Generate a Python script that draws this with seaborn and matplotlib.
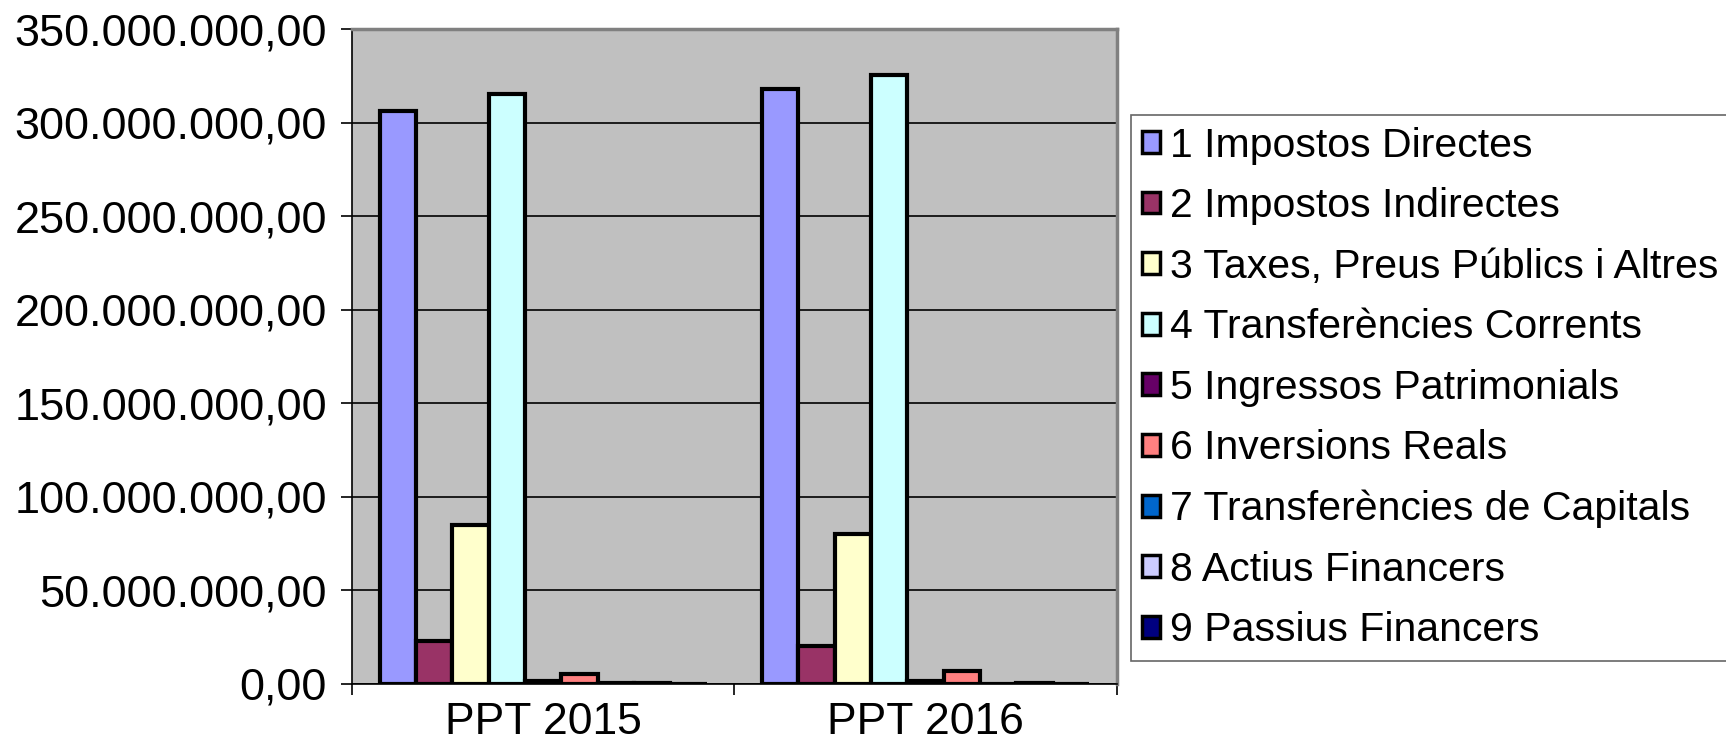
import matplotlib
matplotlib.use("Agg")
import matplotlib.pyplot as plt
import seaborn as sns
import pandas as pd
from matplotlib.ticker import FuncFormatter, MultipleLocator, FixedLocator
from matplotlib.patches import Patch

categories = ["PPT 2015", "PPT 2016"]
series = ["1 Impostos Directes", "2 Impostos Indirectes", "3 Taxes, Preus Públics i Altres",
          "4 Transferències Corrents", "5 Ingressos Patrimonials", "6 Inversions Reals",
          "7 Transferències de Capitals", "8 Actius Financers", "9 Passius Financers"]
values_2015 = [306.5e6, 23.0e6, 84.8e6, 315.3e6, 1.5e6, 5.3e6, 0.3e6, 0.3e6, 0.0]
values_2016 = [318.2e6, 20.0e6, 80.1e6, 325.8e6, 1.2e6, 7.0e6, 0.0, 0.4e6, 0.0]
colors = ["#9999FF", "#993366", "#FFFFCC", "#CCFFFF", "#660066", "#FF8080",
          "#0066CC", "#CCCCFF", "#000080"]

rows = []
for s, a, b in zip(series, values_2015, values_2016):
    rows.append({"cat": categories[0], "serie": s, "val": a})
    rows.append({"cat": categories[1], "serie": s, "val": b})
df = pd.DataFrame(rows)

sns.set_style("white")
plt.rcParams['font.family'] = ['Liberation Sans', 'DejaVu Sans']
plt.rcParams['text.color'] = 'black'
plt.rcParams['xtick.color'] = 'black'
plt.rcParams['ytick.color'] = 'black'
plt.rcParams['axes.labelcolor'] = 'black'

fig = plt.figure(figsize=(17.26, 7.53), dpi=100)
ax = fig.add_axes([0.204, 0.092, 0.443, 0.869])

sns.barplot(data=df, x="cat", y="val", hue="serie", order=categories, hue_order=series,
            palette=colors, width=0.855, edgecolor="black", linewidth=3,
            saturation=1, ax=ax, legend=False, zorder=3)

ax.set_facecolor("#C0C0C0")
ax.set_ylim(0, 350e6)
ax.set_xlim(-0.5, 1.5)
ax.yaxis.set_major_locator(MultipleLocator(50e6))
ax.yaxis.set_major_formatter(FuncFormatter(
    lambda v, p: f"{v:,.2f}".replace(",", "X").replace(".", ",").replace("X", ".")))
ax.grid(axis="y", color="black", linewidth=1.2, zorder=1)
ax.set_axisbelow(True)
ax.set_xlabel("")
ax.set_ylabel("")

for side in ["left", "bottom"]:
    ax.spines[side].set_color("black")
    ax.spines[side].set_linewidth(1.2)
for side in ["top", "right"]:
    ax.spines[side].set_color("#808080")
    ax.spines[side].set_linewidth(2.5)

ax.tick_params(axis="y", which="major", left=True, length=8, width=1.2, labelsize=32.5, pad=10,
               colors="black")
ax.tick_params(axis="x", which="major", bottom=False, labelsize=32, pad=10, colors="black")
ax.xaxis.set_minor_locator(FixedLocator([-0.5, 0.5, 1.5]))
ax.tick_params(axis="x", which="minor", bottom=True, length=8, width=1.2, colors="black")

handles = [Patch(facecolor=c, edgecolor="black", linewidth=2.5) for c in colors]
leg = fig.legend(handles, series, loc="upper left", bbox_to_anchor=(0.655, 0.847),
                 frameon=True, fancybox=False, fontsize=29.5, handlelength=0.44,
                 handleheight=0.44, handletextpad=0.25, labelspacing=0.55,
                 borderpad=0.28, borderaxespad=0, labelcolor="black")
leg.get_frame().set_edgecolor("#404040")
leg.get_frame().set_linewidth(1.2)

fig.savefig("out.png", dpi=100)
